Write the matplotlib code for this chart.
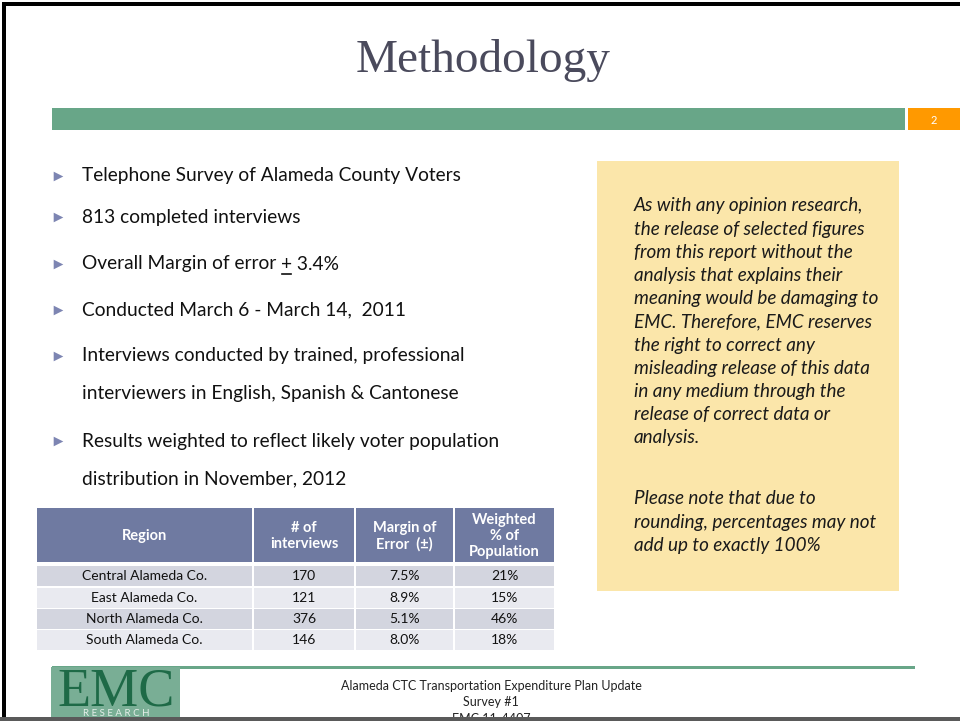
import matplotlib.pyplot as plt
from matplotlib.patches import Rectangle

# slide text
title = "Methodology"
page_no = "2"
bullets = [
    "Telephone Survey of Alameda County Voters",
    "813 completed interviews",
    None,  # margin of error line, drawn in pieces
    "Conducted March 6 - March 14,  2011",
    "Interviews conducted by trained, professional",
    "Results weighted to reflect likely voter population",
]
bullet_cont = {4: "interviewers in English, Spanish & Cantonese",
               5: "distribution in November, 2012"}
moe_parts = ["Overall Margin of error ", "+", " 3.4%"]

note_lines = [
    "As with any opinion research,",
    "the release of selected figures",
    "from this report without the",
    "analysis that explains their",
    "meaning would be damaging to",
    "EMC. Therefore, EMC reserves",
    "the right to correct any",
    "misleading release of this data",
    "in any medium through the",
    "release of correct data or",
    "analysis.",
]
note2_lines = [
    "Please note that due to",
    "rounding, percentages may not",
    "add up to exactly 100%",
]

# table data
headers = ["Region", "# of\ninterviews", "Margin of\nError  (\u00b1)", "Weighted\n% of\nPopulation"]
regions = ["Central Alameda Co.", "East Alameda Co.", "North Alameda Co.", "South Alameda Co."]
interviews = [170, 121, 376, 146]
moe = ["7.5%", "8.9%", "5.1%", "8.0%"]
weighted = ["21%", "15%", "46%", "18%"]

footer = ["Alameda CTC Transportation Expenditure Plan Update", "Survey #1", "EMC 11-4407"]

SANS = "Lato"
GREEN = "#68a688"
SLATE = "#6f7aa1"
BODY = 13.8

fig = plt.figure(figsize=(9.6, 7.21), dpi=100)
ax = fig.add_axes([0, 0, 1, 1])
ax.set_xlim(0, 960)
ax.set_ylim(721, 0)
ax.axis("off")

# frame
ax.add_patch(Rectangle((2, 2), 960, 4, color="black", lw=0))
ax.add_patch(Rectangle((2, 2), 4, 720, color="black", lw=0))

# title + header bar
ax.text(483, 72, title, ha="center", va="baseline", fontsize=34,
        family="Liberation Serif", color="#4a4a5c")
ax.add_patch(Rectangle((52, 108), 853, 22, color=GREEN, lw=0))
ax.add_patch(Rectangle((908, 108), 60, 22, color="#ff9900", lw=0))
ax.text(934, 120, page_no, ha="center", va="center", fontsize=8, color="white", family=SANS)

# bullets
ys = [176, 217, 264, 310, 356, 441]
cont_y = {4: 394, 5: 479}
for i, y in enumerate(ys):
    ax.scatter([58], [y], marker=">", s=48, color="#7d85b2", lw=0)
    if bullets[i] is not None:
        ax.text(82, y, bullets[i], va="center", fontsize=BODY, family=SANS, color="#111111")
    if i in bullet_cont:
        ax.text(82, cont_y[i], bullet_cont[i], va="center", fontsize=BODY, family=SANS, color="#111111")

# margin of error line with underlined plus
fig.canvas.draw()
r = fig.canvas.get_renderer()
t1 = ax.text(82, 264, moe_parts[0], va="center", fontsize=BODY, family=SANS, color="#111111")
bb = t1.get_window_extent(r)
x1 = ax.transData.inverted().transform((bb.x1, 0))[0]
t2 = ax.text(x1, 264, moe_parts[1], va="center", fontsize=BODY, family=SANS, color="#111111")
bb2 = t2.get_window_extent(r)
x2 = ax.transData.inverted().transform((bb2.x1, 0))[0]
ax.plot([x1 + 1, x2 - 1], [273.5, 273.5], color="#111111", lw=1.2)
ax.text(x2, 264, moe_parts[2], va="center", fontsize=BODY, family=SANS, color="#111111")

# table
col_x = [37, 254, 356, 455]
col_w = [215, 100, 97, 99]
h_top, h_bot = 508, 562
for cx, cw, h in zip(col_x, col_w, headers):
    ax.add_patch(Rectangle((cx, h_top), cw, h_bot - h_top, color=SLATE, lw=0))
    ax.text(cx + cw / 2, (h_top + h_bot) / 2 + 1, h, ha="center", va="center",
            fontsize=10.5, fontweight="bold", family=SANS, color="white", linespacing=1.15)
row_top = [566, 588, 609, 630]
row_h = 20
for j, (rg, n, m, w) in enumerate(zip(regions, interviews, moe, weighted)):
    fill = "#d3d5df" if j % 2 == 0 else "#e9eaf0"
    for cx, cw, val in zip(col_x, col_w, [rg, str(n), m, w]):
        ax.add_patch(Rectangle((cx, row_top[j]), cw, row_h, color=fill, lw=0))
        ax.text(cx + cw / 2, row_top[j] + row_h / 2, val, ha="center", va="center",
                fontsize=10, family=SANS, color="#111111")

# note box
ax.add_patch(Rectangle((597, 161), 302, 430, color="#fbe6aa", lw=0))
for k, line in enumerate(note_lines):
    ax.text(634, 206 + k * 23.2, line, va="center", fontsize=13.6, style="italic",
            family=SANS, color="#1a1a1a")
for k, line in enumerate(note2_lines):
    ax.text(634, 499 + k * 23.2, line, va="center", fontsize=13.6, style="italic",
            family=SANS, color="#1a1a1a")

# footer
ax.add_patch(Rectangle((52, 666), 863, 3, color=GREEN, lw=0))
ax.add_patch(Rectangle((51, 667), 129, 50, color="#79ae95", lw=0))
ax.text(116, 705, "EMC", ha="center", va="baseline", fontsize=39,
        family="Liberation Serif", color="#1e6a47")
ax.text(116, 713, "R E S E A R C H", ha="center", va="center", fontsize=7,
        family=SANS, color="#e6efea")
for k, line in enumerate(footer):
    ax.text(491, 686 + k * 16.5, line, ha="center", va="center", fontsize=9,
            family=SANS, color="#222222")
ax.add_patch(Rectangle((0, 717), 960, 4, color="#5a5a5a", lw=0, zorder=5))

fig.savefig("out.png", dpi=100)
